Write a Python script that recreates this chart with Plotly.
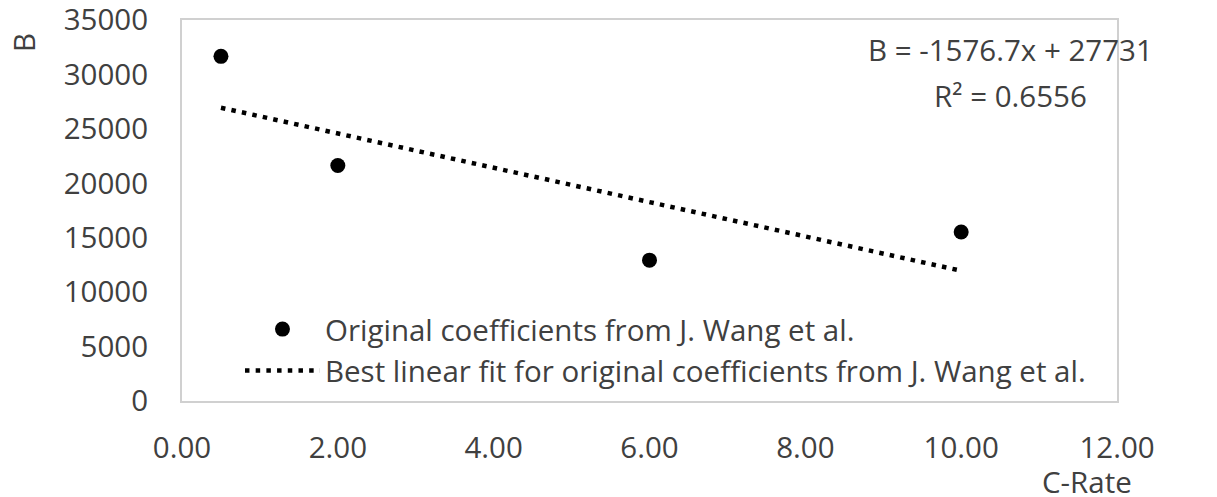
import plotly.graph_objects as go

# Measured coefficients B versus discharge C-rate
c_rate = [0.5, 2.0, 6.0, 10.0]
b_coef = [31660, 21640, 12940, 15520]

# Linear trend reported on the chart: B = slope * x + intercept
fit_slope = -1576.7
fit_intercept = 27731
fit_r2 = 0.6556
fit_x = [min(c_rate), max(c_rate)]
fit_y = [fit_slope * x + fit_intercept for x in fit_x]

x_ticks = [0, 2, 4, 6, 8, 10, 12]
y_ticks = [0, 5000, 10000, 15000, 20000, 25000, 30000, 35000]

FONT = "Open Sans"
TXT = "#404040"
FS = 29.5

fig = go.Figure()
fig.add_trace(go.Scatter(
    x=c_rate, y=b_coef, mode="markers",
    name="Original coefficients from J. Wang et al.",
    marker=dict(color="black", size=15, line=dict(width=0)),
))
fig.add_trace(go.Scatter(
    x=fit_x, y=fit_y, mode="lines",
    name="Best linear fit for original coefficients from J. Wang et al.",
    line=dict(color="black", width=4.5, dash="4.5px,6.2px"),
))

fig.update_layout(
    width=1217, height=497,
    margin=dict(l=182, r=100, t=20, b=96),
    paper_bgcolor="white", plot_bgcolor="white",
    font=dict(family=FONT, size=FS, color=TXT),
    showlegend=True,
    legend=dict(
        x=0.062, y=0.134, xanchor="left", yanchor="middle",
        bgcolor="rgba(0,0,0,0)", itemwidth=75,
        font=dict(family=FONT, size=FS, color=TXT),
        tracegroupgap=0,
    ),
    xaxis=dict(
        range=[0, 12], tickvals=x_ticks, tickformat=".2f",
        showgrid=False, zeroline=False, automargin=False,
        ticklabeloverflow="allow",
        showline=True, mirror=True, linecolor="#d0d0d0", linewidth=2,
        ticks="", ticklabelstandoff=20,
    ),
    yaxis=dict(
        range=[0, 35000], tickvals=y_ticks, tickformat="d",
        showgrid=False, zeroline=False, automargin=False,
        ticklabeloverflow="allow",
        showline=True, mirror=True, linecolor="#d0d0d0", linewidth=2,
        ticks="", ticklabelstandoff=26,
    ),
    annotations=[
        dict(text=f"B = {fit_slope}x + {fit_intercept}", x=0.8866, y=0.9213,
             xref="paper", yref="paper", showarrow=False,
             xanchor="center", yanchor="middle", font=dict(size=FS)),
        dict(text=f"R² = {fit_r2}", x=0.8866, y=0.8031,
             xref="paper", yref="paper", showarrow=False,
             xanchor="center", yanchor="middle", font=dict(size=FS)),
        dict(text="B", x=-0.170, y=0.9396, xref="paper", yref="paper",
             showarrow=False, textangle=-90,
             xanchor="center", yanchor="middle", font=dict(size=FS)),
        dict(text="C-Rate", x=0.968, y=-0.212, xref="paper", yref="paper",
             showarrow=False, xanchor="center", yanchor="middle",
             font=dict(size=FS)),
    ],
)

fig.write_html("out.html")
